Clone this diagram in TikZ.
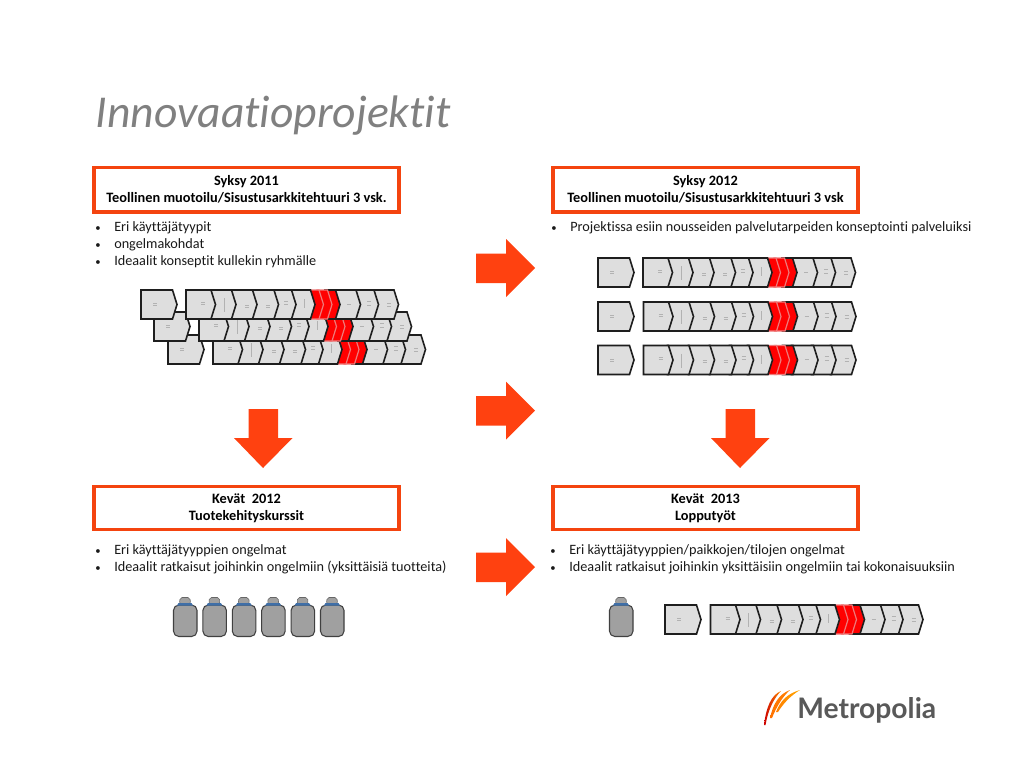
\documentclass[tikz,border=0pt]{standalone}
\usepackage{fontspec}
\setmainfont[RawFeature={-liga;-clig;-dlig}]{Carlito}
\newfontfamily\logofont{Lato}
\definecolor{hot}{HTML}{FF4110}
\definecolor{framered}{HTML}{F4440F}
\definecolor{chevfill}{HTML}{DEDEDE}
\definecolor{chevline}{HTML}{1E1E1E}
\definecolor{bottlegrey}{HTML}{A0A0A0}
\definecolor{bottleblue}{HTML}{3F6FA8}
\definecolor{titlegrey}{HTML}{808080}
\tikzset{
  x=0.75pt,y=-0.75pt,
  framebox/.style={draw=framered,line width=2.7pt,fill=white,minimum width=229pt,inner sep=0pt,anchor=north west,align=center,font=\fontsize{10.75}{12.6}\selectfont\bfseries},
  bodyline/.style={anchor=base west,inner sep=0pt,font=\fontsize{10.68}{12}\selectfont,text=black!90},
  chevshape/.style={draw=chevline,fill=chevfill,line width=1.2pt,line join=miter},
  redshape/.style={draw=chevline,fill=red,line width=1.2pt},
  pinkshape/.style={draw=red!45!chevfill,fill=red,line width=0.9pt},
  tickmark/.style={draw=black!30,line width=0.3pt},
  bigarrow/.style={fill=hot,draw=none},
}
% pentagon: style, left edge, tip
\newcommand{\Pent}[3]{\path[#1] (#2,0) -- (#3-4.5,0) -- (#3,14.5) -- (#3-4.5,29) -- (#2,29) -- cycle;}
\newcommand{\Tick}[2]{\path[tickmark] (#1-2,#2) -- (#1+2,#2);}
% row: first box x, chain start x, top y
\newcommand{\ChevRow}[3]{%
  \begin{scope}[shift={(#1,#3)}]
    \Pent{chevshape}{0}{36}
    \Tick{14}{13.5}\Tick{14}{15.5}
  \end{scope}
  \begin{scope}[shift={(#2,#3)}]
    \Pent{chevshape}{187}{212.5}
    \Pent{chevshape}{168}{192.5}
    \Pent{chevshape}{148}{174.5}
    \Pent{redshape}{139}{154}
    \Pent{pinkshape}{131}{146}
    \Pent{pinkshape}{122}{137.5}
    \Pent{chevshape}{104}{129}
    \Pent{chevshape}{86}{110}
    \Pent{chevshape}{66}{92.5}
    \Pent{chevshape}{45}{71}
    \Pent{chevshape}{24}{50}
    \Pent{chevshape}{0}{29.5}
    \Tick{17}{12}\Tick{17}{14}
    \path[tickmark] (38,8) -- (38,22);
    \Tick{61}{15}\Tick{61}{17}
    \Tick{82}{15}\Tick{82}{17}
    \Tick{100}{11}\Tick{100}{14}
    \path[tickmark] (118,9) -- (118,18);
    \Tick{163}{14}
    \Tick{183}{11}\Tick{183}{15}
    \Tick{203}{13}\Tick{203}{16}
  \end{scope}}
\newcommand{\Bottle}[2]{%
  \begin{scope}[shift={(#1,#2)}]
    \path[fill=bottlegrey,draw=black!75,line width=0.8pt,rounded corners=4pt] (0.5,8) rectangle (24,39.5);
    \path[fill=bottlegrey,draw=black!60,line width=0.4pt,rounded corners=1.5pt] (6.5,7) -- (7,0.5) -- (17,0.5) -- (17.5,7) -- cycle;
    \path[fill=bottleblue] (5.5,6) -- (18.5,6) -- (20,8.5) -- (4,8.5) -- cycle;
  \end{scope}}
\newcommand{\ArrowRight}[2]{\path[bigarrow] (#1,#2+14.5) -- (#1+30,#2+14.5) -- (#1+30,#2) -- (#1+59,#2+29) -- (#1+30,#2+58) -- (#1+30,#2+44) -- (#1,#2+44) -- cycle;}
\newcommand{\ArrowDown}[2]{\path[bigarrow] (#1+14.5,#2) -- (#1+44,#2) -- (#1+44,#2+29) -- (#1+58.5,#2+29) -- (#1+29,#2+59) -- (#1,#2+29) -- (#1+14.5,#2+29) -- cycle;}
\newcommand{\Bul}{\scalebox{0.75}{•}}
\begin{document}
\begin{tikzpicture}
\path[fill=white] (0,0) rectangle (1024,768);
\useasboundingbox (0,0) rectangle (1024,768);

\node[anchor=base west,inner sep=0pt,text=titlegrey,font=\fontsize{34.2}{38}\selectfont\itshape] (title) at (95.5,127) {Innovaatioprojektit};

\node[framebox,minimum height=33.5pt] (b1) at (92,165.5) {Syksy 2011\\Teollinen muotoilu/Sisustusarkkitehtuuri 3 vsk.};
\node[framebox,minimum height=33.5pt] (b2) at (551,165.5) {Syksy 2012\\Teollinen muotoilu/Sisustusarkkitehtuuri 3 vsk};
\node[framebox,minimum height=32.5pt] (b3) at (92,484.5) {Kevät\ \ 2012\\Tuotekehityskurssit};
\node[framebox,minimum height=32.5pt] (b4) at (551,484.5) {Kevät\ \ 2013\\Lopputyöt};

% bullets
\node[bodyline] (l1a) at (95,231) {\Bul}; \node[bodyline] (t1a) at (114,231) {Eri käyttäjätyypit};
\node[bodyline] (l1b) at (95,248) {\Bul}; \node[bodyline] (t1b) at (114,248) {ongelmakohdat};
\node[bodyline] (l1c) at (95,265.5) {\Bul}; \node[bodyline] (t1c) at (114,265.5) {Ideaalit konseptit kullekin ryhmälle};
\node[bodyline] (l2a) at (551,231) {\Bul}; \node[bodyline] (t2a) at (570,231) {Projektissa esiin nousseiden palvelutarpeiden konseptointi palveluiksi};
\node[bodyline] (l3a) at (95,554) {\Bul}; \node[bodyline] (t3a) at (114,554) {Eri käyttäjätyyppien ongelmat};
\node[bodyline] (l3b) at (95,571.5) {\Bul}; \node[bodyline] (t3b) at (114,571.5) {Ideaalit ratkaisut joihinkin ongelmiin (yksittäisiä tuotteita)};
\node[bodyline] (l4a) at (550,554) {\Bul}; \node[bodyline] (t4a) at (569,554) {Eri käyttäjätyyppien/paikkojen/tilojen ongelmat};
\node[bodyline] (l4b) at (550,571.5) {\Bul}; \node[bodyline] (t4b) at (569,571.5) {Ideaalit ratkaisut joihinkin yksittäisiin ongelmiin tai kokonaisuuksiin};

% chevron rows
\ChevRow{168}{213}{335}
\ChevRow{154}{199}{312}
\ChevRow{141}{186}{290}
\ChevRow{598}{643}{258}
\ChevRow{598}{643.5}{302}
\ChevRow{598}{643.5}{345.5}
\ChevRow{665}{710.5}{605}

% bottles
\Bottle{173}{597}\Bottle{202.4}{597}\Bottle{231.8}{597}\Bottle{261.2}{597}\Bottle{290.6}{597}\Bottle{320}{597}
\Bottle{609}{597}

% arrows
\ArrowRight{476}{239}
\ArrowRight{476}{381.5}
\ArrowRight{476}{538}
\ArrowDown{234}{409}
\ArrowDown{711}{409}

% logo
\shade[left color=red!80!black,right color=orange!90!yellow] (764,725) .. controls (766,708) and (771,695) .. (781,691) .. controls (774,698) and (768,710) .. (765.5,725) -- cycle;
\shade[left color=orange!90!red,right color=orange] (770,718) .. controls (773,704) and (779,694) .. (790,690) .. controls (782,697) and (776,708) .. (772,718) -- cycle;
\shade[left color=orange,right color=orange!70!yellow] (776,712) .. controls (780,702) and (786,694) .. (800,690) .. controls (790,696) and (783,704) .. (778,712) -- cycle;
\node[anchor=base west,inner sep=0pt,text=black!65,font=\logofont\fontsize{21.2}{24}\selectfont\bfseries] (logo) at (797,718) {Metropolia};
\end{tikzpicture}
\end{document}
